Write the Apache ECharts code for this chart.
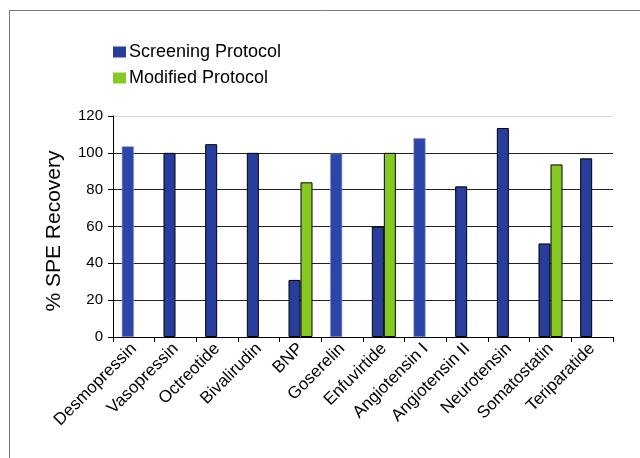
<!DOCTYPE html>
<html>
<head>
<meta charset="utf-8">
<script src="https://cdn.jsdelivr.net/npm/echarts@6/dist/echarts.min.js"></script>
<style>
html,body{margin:0;padding:0;background:#fff;}
#chart{width:640px;height:458px;}
</style>
</head>
<body>
<div id="chart"></div>
<script>
var categories = ['Desmopressin','Vasopressin','Octreotide','Bivalirudin','BNP','Goserelin','Enfuvirtide','Angiotensin I','Angiotensin II','Neurotensin','Somatostatin','Teriparatide'];
var screening = [103.5, 100, 104.7, 100, 31, 99.6, 60, 108, 81.8, 113.5, 50.8, 97];
var modified = [null, null, null, null, 84, null, 100, null, null, null, 93.7, null];
var borderless = ['Desmopressin','Goserelin','Angiotensin I'];
var yTicks = [0, 20, 40, 60, 80, 100, 120];

var FONT = 'Liberation Sans, Arial, sans-serif';
var chart = echarts.init(document.getElementById('chart'));

var screeningData = screening.map(function (v, i) {
  var plain = borderless.indexOf(categories[i]) >= 0;
  return {
    value: v,
    itemStyle: plain ? { color: '#2e45a8', borderColor: '#7f8fd0', borderWidth: 0.6 } :
                       { color: '#283e9c', borderColor: '#000', borderWidth: 1 }
  };
});

chart.setOption({
  animation: false,
  textStyle: { fontFamily: FONT },
  grid: { left: 113, top: 116, right: 27, bottom: 121, containLabel: false },
  legend: {
    orient: 'vertical', left: 108, top: 38,
    itemWidth: 13, itemHeight: 11, itemGap: 8, icon: 'rect',
    itemStyle: { borderWidth: 0 },
    textStyle: { fontSize: 18, color: '#000', fontFamily: FONT, padding: [0,0,0,-2], lineHeight: 18 },
    data: ['Screening Protocol', 'Modified Protocol']
  },
  xAxis: {
    type: 'category', data: categories,
    axisLine: { lineStyle: { color: '#000', width: 1 } },
    axisTick: { show: true, length: 5, lineStyle: { color: '#000' } },
    axisLabel: { interval: 0, rotate: 45, fontSize: 17, color: '#000', margin: 9, fontFamily: FONT }
  },
  yAxis: {
    type: 'value', min: yTicks[0], max: yTicks[yTicks.length - 1], interval: 20,
    axisLine: { show: true, lineStyle: { color: '#000', width: 1 } },
    axisTick: { show: true, length: 5, lineStyle: { color: '#000' } },
    axisLabel: { fontSize: 15, color: '#000', margin: 10, fontFamily: FONT },
    splitLine: { show: true, lineStyle: { color: ['#000','#222','#222','#222','#222','#222','#d8d8d8'], width: 1 } }
  },
  series: [
    { name: 'Screening Protocol', type: 'bar', data: screeningData, barWidth: 12, barGap: '0%',
      itemStyle: { color: '#283e9c', borderColor: '#000', borderWidth: 1 } },
    { name: 'Modified Protocol', type: 'bar', data: modified, barWidth: 12, barGap: '0%',
      itemStyle: { color: '#86c922', borderColor: '#000', borderWidth: 1 } }
  ],
  graphic: [
    { type: 'line', shape: { x1: 9.5, y1: 10.5, x2: 9.5, y2: 458 }, style: { stroke: '#777', lineWidth: 1 } },
    { type: 'line', shape: { x1: 9, y1: 10.5, x2: 640, y2: 10.5 }, style: { stroke: '#777', lineWidth: 1 } },
    { type: 'text', x: 54, y: 231, rotation: Math.PI / 2,
      style: { text: '% SPE Recovery', fontSize: 21, fill: '#000', fontFamily: FONT, textAlign: 'center', textVerticalAlign: 'middle' } }
  ]
});
</script>
</body>
</html>
